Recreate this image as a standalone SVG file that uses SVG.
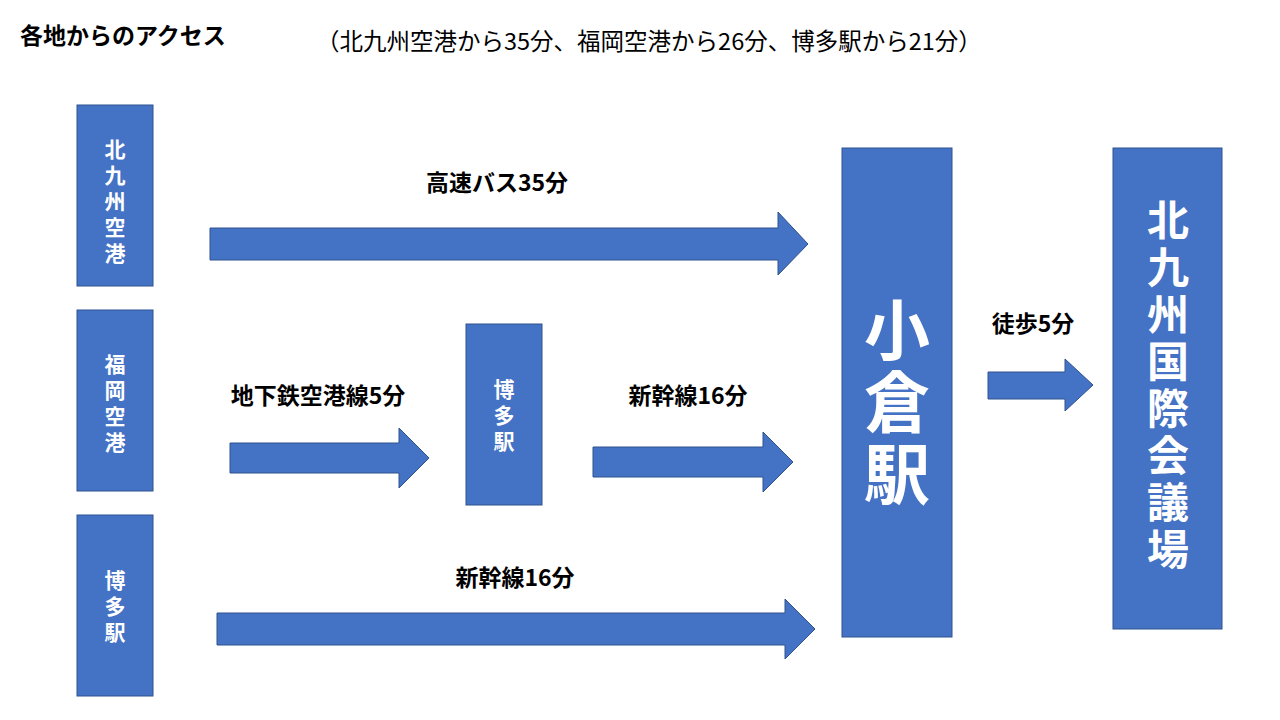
<svg xmlns="http://www.w3.org/2000/svg" width="1280" height="720" viewBox="0 0 1280 720">
<style>
.box{fill:#4472C4;stroke:#2F528F;stroke-width:1}
.arr{fill:#4472C4;stroke:#2F528F;stroke-width:1}
text{font-family:"Noto Sans CJK JP","Noto Sans",sans-serif}
.bt{fill:#fff;font-size:21px;font-weight:bold;text-anchor:middle}
.lb{fill:#000;font-size:23px;font-weight:bold;text-anchor:middle}
</style>
<rect width="1280" height="720" fill="#fff"/>
<text x="20" y="44" font-size="23" font-weight="bold">各地からのアクセス</text>
<text x="316" y="50" font-size="23.5">（北九州空港から35分、福岡空港から26分、博多駅から21分）</text>
<g id="kitakyushu-airport"><rect class="box" x="77" y="105" width="76" height="181"/>
<text class="bt"><tspan x="115" y="157">北</tspan><tspan x="115" y="183">九</tspan><tspan x="115" y="209">州</tspan><tspan x="115" y="235">空</tspan><tspan x="115" y="261">港</tspan></text></g>
<g id="fukuoka-airport"><rect class="box" x="77" y="310" width="76" height="181"/>
<text class="bt"><tspan x="115" y="372">福</tspan><tspan x="115" y="398">岡</tspan><tspan x="115" y="424">空</tspan><tspan x="115" y="450">港</tspan></text></g>
<g id="hakata"><rect class="box" x="77" y="515" width="76" height="181"/>
<text class="bt"><tspan x="115" y="588">博</tspan><tspan x="115" y="614">多</tspan><tspan x="115" y="640">駅</tspan></text></g>
<g id="hakata-mid"><rect class="box" x="466" y="324" width="76" height="181"/>
<text class="bt"><tspan x="504" y="397">博</tspan><tspan x="504" y="423">多</tspan><tspan x="504" y="449">駅</tspan></text></g>
<g id="kokura"><rect class="box" x="842" y="148" width="110" height="489"/>
<text class="bt" style="font-size:66px"><tspan x="897" y="355">小</tspan><tspan x="897" y="427">倉</tspan><tspan x="897" y="499">駅</tspan></text></g>
<g id="convention"><rect class="box" x="1113" y="148" width="109" height="481"/>
<text class="bt" style="font-size:42px"><tspan x="1168" y="236">北</tspan><tspan x="1168" y="283">九</tspan><tspan x="1168" y="330">州</tspan><tspan x="1168" y="377">国</tspan><tspan x="1168" y="424">際</tspan><tspan x="1168" y="471">会</tspan><tspan x="1168" y="518">議</tspan><tspan x="1168" y="565">場</tspan></text></g>
<g id="connectors">
<polygon class="arr" points="210,228 778,228 778,212 808,244 778,275 778,260 210,260"/>
<polygon class="arr" points="230,443 399,443 399,428 429,458 399,488 399,473 230,473"/>
<polygon class="arr" points="593,447 763,447 763,432 793,462 763,492 763,477 593,477"/>
<polygon class="arr" points="217,613 785,613 785,599 815,629 785,659 785,645 217,645"/>
<polygon class="arr" points="988,372 1065,372 1065,359 1093,385 1065,411 1065,399 988,399"/>
<text class="lb" x="497" y="191">高速バス35分</text>
<text class="lb" x="318" y="404">地下鉄空港線5分</text>
<text class="lb" x="688" y="404">新幹線16分</text>
<text class="lb" x="515" y="586">新幹線16分</text>
<text class="lb" x="1033" y="332">徒歩5分</text>
</g>
</svg>
